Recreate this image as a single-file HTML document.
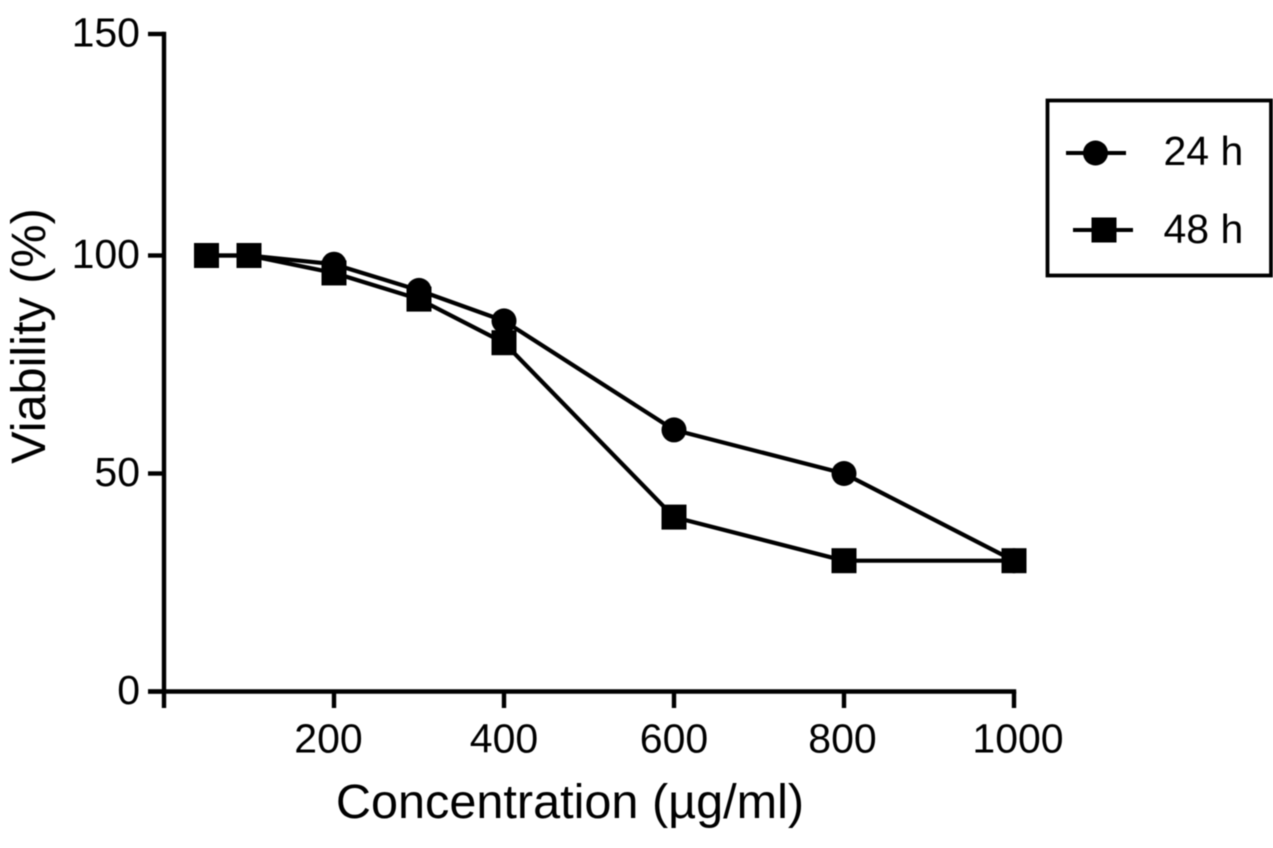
<!DOCTYPE html>
<html lang="en">
<head>
<meta charset="utf-8">
<title>Viability vs Concentration</title>
<style>
  html, body { margin: 0; padding: 0; background: #fff; }
  body { width: 1273px; height: 848px; overflow: hidden; }
  svg { display: block; filter: blur(0.45px); }
  text { font-family: "Liberation Sans", sans-serif; fill: #000; }
</style>
</head>
<body>
<svg id="chart" width="1273" height="848" viewBox="0 0 1273 848" xmlns="http://www.w3.org/2000/svg">
  <rect x="0" y="0" width="1273" height="848" fill="#fff"/>
  <g id="axes"></g>
  <g id="series"></g>
  <text x="570" y="818" font-size="48.6" text-anchor="middle">Concentration (µg/ml)</text>
  <text transform="translate(45 336) rotate(-90)" font-size="48.6" text-anchor="middle">Viability (%)</text>
  <g>
    <rect x="1047.5" y="100.5" width="223.5" height="175" fill="#fff" stroke="#000" stroke-width="3.8"/>
    <g>
      <line x1="1066" y1="153" x2="1126" y2="153" stroke="#000" stroke-width="4"/>
      <circle cx="1095.5" cy="153" r="12.5" fill="#000"/>
      <text x="1163.5" y="165" font-size="41">24 h</text>
    </g>
    <g>
      <line x1="1073" y1="230" x2="1133" y2="230" stroke="#000" stroke-width="4"/>
      <rect x="1091.5" y="217.5" width="25" height="25" fill="#000"/>
      <text x="1163.5" y="243" font-size="41">48 h</text>
    </g>
  </g>
</svg>
<script>
const concentrations = [50, 100, 200, 300, 400, 600, 800, 1000];
const viability24h = [100, 100, 98, 92, 85, 60, 50, 30];
const viability48h = [100, 100, 96, 90, 80, 40, 30, 30];
const xTickLabels = [200, 400, 600, 800, 1000];
const yTickLabels = [0, 50, 100, 150];

const NS = 'http://www.w3.org/2000/svg';

// The source figure's y axis is very slightly uneven, so the scale is piecewise.
function xScale(v) {
  return 164 + v * 0.85;
}
function yScale(v) {
  if (v <= 100) return 691.5 - v * 4.36;
  return 255.5 - (v - 100) * 4.43;
}
// Hand-placed label offsets seen in the source figure, keyed by tick value.
function xLabelNudge(v) {
  if (v === 200) return -5.5;
  if (v === 800) return -1.5;
  if (v === 1000) return 4;
  return 0;
}

function make(tag, attrs, parent) {
  const el = document.createElementNS(NS, tag);
  for (const k in attrs) el.setAttribute(k, attrs[k]);
  parent.appendChild(el);
  return el;
}

const axes = document.getElementById('axes');
const seriesGroup = document.getElementById('series');
const axisStroke = { stroke: '#000', 'stroke-width': 4.4 };

const yAxisLine = make('line', Object.assign({ x1: xScale(0), x2: xScale(0), y1: yScale(150) - 2.2, y2: 708 }, axisStroke), axes);



const xAxisLine = make('line', Object.assign({ x1: 148, x2: xScale(1000) + 2.2, y1: yScale(0), y2: yScale(0) }, axisStroke), axes);



yTickLabels.forEach(function (v) {
  const tick = make('line', Object.assign({ x1: 148, x2: xScale(0), y1: yScale(v), y2: yScale(v) }, axisStroke), axes);
  
  
  const label = make('text', { x: 140, y: yScale(v) + 12.5, 'font-size': 41, 'text-anchor': 'end' }, axes);
  
  
  label.textContent = String(v);
});

xTickLabels.forEach(function (v) {
  const tick = make('line', Object.assign({ x1: xScale(v), x2: xScale(v), y1: yScale(0), y2: 708 }, axisStroke), axes);
  
  
  const label = make('text', { x: xScale(v) + xLabelNudge(v), y: 752.5, 'font-size': 41, 'text-anchor': 'middle' }, axes);
  
  
  label.textContent = String(v);
});

function drawLine(values, name) {
  const pts = values.map(function (v, i) {
    return xScale(concentrations[i]) + ',' + yScale(v);
  }).join(' ');
  const line = make('polyline', { points: pts, fill: 'none', stroke: '#000', 'stroke-width': 4.2, 'stroke-linejoin': 'round' }, seriesGroup);
  
  
}

drawLine(viability24h, 'line-24h');
viability24h.forEach(function (v, i) {
  const dot = make('circle', { cx: xScale(concentrations[i]), cy: yScale(v), r: 12.5, fill: '#000' }, seriesGroup);
  
  
});

drawLine(viability48h, 'line-48h');
viability48h.forEach(function (v, i) {
  const sq = make('rect', { x: xScale(concentrations[i]) - 12.5, y: yScale(v) - 12.5, width: 25, height: 25, fill: '#000' }, seriesGroup);
  
  
});
</script>
</body>
</html>
